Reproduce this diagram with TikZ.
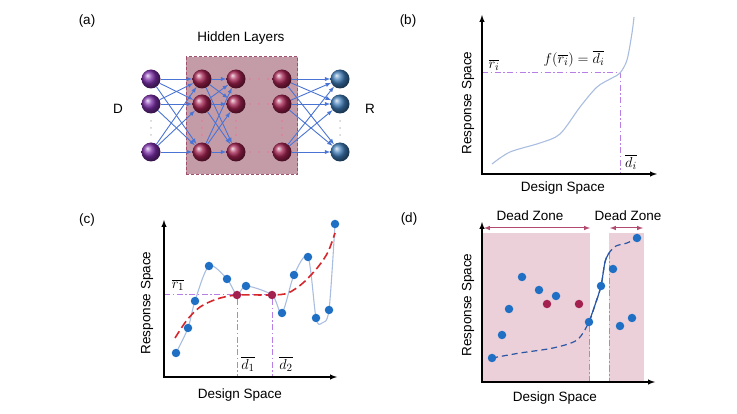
\documentclass[tikz,border=0pt]{standalone}
\usepackage{amsmath}
\usepackage{fontspec}
\setmainfont{Liberation Sans}
\usetikzlibrary{positioning,arrows,fit,backgrounds,calc}

\definecolor{inpurple}{HTML}{7B2EA8}
\definecolor{hidred}{HTML}{A3214F}
\definecolor{outblue}{HTML}{3D7AB5}
\definecolor{boxfill}{HTML}{C49CA8}
\definecolor{boxedge}{HTML}{A0506C}
\definecolor{boxdots}{HTML}{E07D9C}
\definecolor{linkblue}{HTML}{4A74D4}
\definecolor{guidepurple}{HTML}{B77EE6}
\definecolor{curveblue}{HTML}{A9BDE0}
\definecolor{fitred}{HTML}{D7262B}
\definecolor{dotblue}{HTML}{1F6FC4}
\definecolor{zonefill}{HTML}{EBCFD9}
\definecolor{zoneedge}{HTML}{B04A6E}
\definecolor{darkcurve}{HTML}{2A56A3}

\begin{document}
\begin{tikzpicture}[x=1pt,y=-1pt,
  neuron/.style={circle,minimum size=19pt,inner sep=0pt,shading=ball,ball color=#1},
  link/.style={->,>=latex,draw=linkblue,line width=0.9pt},
  ele/.style={fill=#1,circle,minimum size=8.5pt,inner sep=0pt},
  dot/.style={fill=#1,circle,minimum size=2pt,inner sep=0pt},
  axis/.style={latex-latex,line width=1.4pt},
  guide/.style={draw=guidepurple,line width=1pt,dash pattern=on 6pt off 2.5pt on 1.5pt off 2.5pt},
  txt/.style={font=\fontsize{13.5}{16}\selectfont},
  lbl/.style={font=\fontsize{15}{17}\selectfont}]
  \useasboundingbox (0,0) rectangle (737,414);

  % (a) network
  \node[txt] (taga) at (87,21) {(a)};
  \foreach \r/\y in {1/79,2/104,3/152} {
    \node[neuron=inpurple] (in\r) at (151,\y) {};
    \node[neuron=hidred] (ha\r) at (202,\y) {};
    \node[neuron=hidred] (hb\r) at (236,\y) {};
    \node[neuron=hidred] (hc\r) at (282,\y) {};
    \node[neuron=outblue] (out\r) at (340,\y) {};
  }
  \begin{scope}[on background layer]
    \node[draw=boxedge,fill=boxfill,line width=0.8pt,dash pattern=on 3pt off 2pt,
      fit=(ha1) (hc3),inner xsep=6pt,inner ysep=12.5pt] (hidbox) {};
  \end{scope}
  \foreach \a in {1,2,3} {
    \foreach \b in {1,2,3} {
      \draw[link] (in\a) -- (ha\b);
      \draw[link] (ha\a) -- (hb\b);
      \draw[link] (hc\a) -- (out\b);
    }
  }
  % vertical and horizontal ellipsis dots
  \foreach \c/\x/\col in {in/151/gray!40,ha/202/boxdots,hb/236/boxdots,hc/282/boxdots,out/340/gray!40}
    \foreach \k/\y in {1/121,2/128,3/135}
      \node[dot=\col] (\c v\k) at (\x,\y) {};
  \foreach \r in {1,2,3}
    \foreach \k/\t in {1/0.3,2/0.5,3/0.7}
      \node[dot=boxdots] (row\r h\k) at ($(hb\r)!\t!(hc\r)$) {};
  \node[txt] (hidlab) at (241,38) {Hidden Layers};
  \node[txt] (dlab) at (118,109) {D};
  \node[txt] (rlab) at (370,109) {R};

  % (b) inverse map
  \node[txt] (tagb) at (408,21) {(b)};
  \coordinate (bO) at (482,174);
  \coordinate (bY) at (482,15);
  \coordinate (bX) at (657,174);
  \coordinate (bP) at (620,73);
  \draw[guide] (bO |- bP) -- (bP) -- (bP |- bO);
  \draw[curveblue,line width=1.1pt] plot[smooth] coordinates {(492,164) (510,152) (540,143)
    (560,134) (580,107) (597,87) (612,78) (bP) (627,60) (632,33) (634,17)};
  \draw[axis] (bY) -- (bO) -- (bX);
  \node[txt,rotate=90] (byl) at (468,103) {Response Space};
  \node[txt] (bxl) at (563,188) {Design Space};
  \node[lbl] (bri) at (494,65) {$\overline{r_i}$};
  \node[lbl] (bdi) at (631,162) {$\overline{d_i}$};
  \node[lbl] (bfn) at (574,59) {$f(\overline{r_i})=\overline{d_i}$};

  % (c) overfitted surrogate
  \node[txt] (tagc) at (87,220) {(c)};
  \coordinate (cO) at (164,377);
  \coordinate (cY) at (164,220);
  \coordinate (cX) at (337,377);
  \foreach \n/\p in {1/{176,353},2/{188,328},3/{195,301},4/{209,266},5/{227,279},6/{246,286},
      7/{282,313},8/{294,275},9/{308,257},10/{316,318},11/{329,310},12/{335,224}}
    \node[ele=dotblue] (c\n) at (\p) {};
  \node[ele=hidred] (cr1) at (237,295) {};
  \node[ele=hidred] (cr2) at (272,295) {};
  \begin{scope}[on background layer]
    \draw[guide] (cO |- cr2) -- (cr2) -- (cr2 |- cO);
    \draw[guide] (cr1) -- (cr1 |- cO);
    \draw[curveblue,line width=1.1pt] plot[smooth] coordinates {(c1) (c2) (c3) (c4) (c5) (cr1)
      (c6) (cr2) (c7) (c8) (c9) (c10) (322,323) (c11) (c12)};
    \draw[fitred,line width=1.6pt,dash pattern=on 8pt off 4pt] plot[smooth] coordinates {(175,338)
      (187,320) (200,307) (217,299) (cr1) (cr2) (288,293) (303,283) (318,267) (328,252) (335,233)};
  \end{scope}
  \draw[axis] (cY) -- (cO) -- (cX);
  \node[txt,rotate=90] (cyl) at (147,303) {Response Space};
  \node[txt] (cxl) at (240,395) {Design Space};
  \node[lbl] (cr) at (178,285) {$\overline{r_1}$};
  \node[lbl] (cd1) at (248,364) {$\overline{d_1}$};
  \node[lbl] (cd2) at (286,364) {$\overline{d_2}$};

  % (d) dead zones
  \node[txt] (tagd) at (409,219) {(d)};
  \coordinate (dO) at (482,382);
  \coordinate (dY) at (482,222);
  \coordinate (dX) at (655,382);
  \coordinate (za) at (484,228);
  \coordinate (zb) at (590,228);
  \coordinate (zc) at (610,228);
  \coordinate (zd) at (643,228);
  \draw[zoneedge,line width=1pt,latex-latex] (za) -- (zb);
  \draw[zoneedge,line width=1pt,latex-latex] (zc) -- (zd);
  \node[txt] (zl1) at (530,216) {Dead Zone};
  \node[txt] (zl2) at (628,216) {Dead Zone};
  \foreach \n/\p in {1/{492,358},2/{502,335},3/{509,309},4/{522,277},5/{539,290},6/{556,296},
      7/{589,322},8/{601,286},9/{613,269},10/{620,326},11/{632,318},12/{637,238}}
    \node[ele=dotblue] (d\n) at (\p) {};
  \node[ele=hidred] (dr1) at (547,304) {};
  \node[ele=hidred] (dr2) at (579,304) {};
  \coordinate (dk) at (609,253);
  \begin{scope}[on background layer]
    \fill[zonefill] (482,233) rectangle (590,382);
    \fill[zonefill] (609,233) rectangle (644,382);
    \draw[guide] (d7) -- (d7 |- dO);
    \draw[guide] (dk) -- (dk |- dO);
    \draw[darkcurve,line width=1.2pt,dash pattern=on 6pt off 4pt] plot[smooth] coordinates {(d1)
      (520,353) (553,348) (577,340) (d7) (595,305) (d8) (605,262) (dk) (616,246) (627,243) (d12)};
    \draw[darkcurve,line width=1.2pt] plot[smooth] coordinates {(d7) (595,305) (d8) (605,262) (dk)};
  \end{scope}
  \draw[axis] (dY) -- (dO) -- (dX);
  \node[txt,rotate=90] (dyl) at (468,305) {Response Space};
  \node[txt] (dxl) at (555,398) {Design Space};
\end{tikzpicture}
\end{document}
